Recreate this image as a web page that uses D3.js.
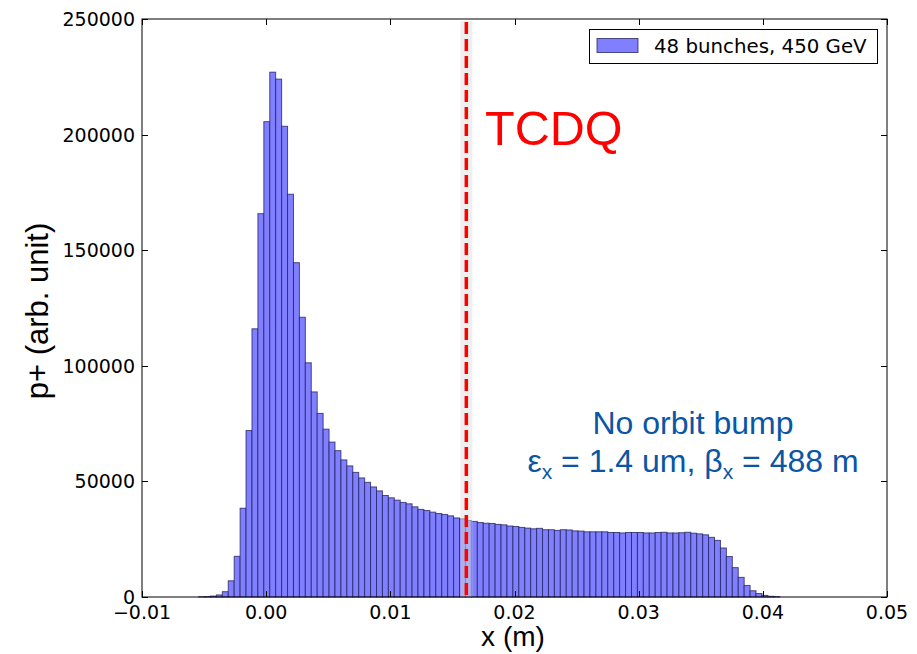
<!DOCTYPE html>
<html><head><meta charset="utf-8">
<script src="https://cdn.jsdelivr.net/npm/d3@7"></script>
<style>body{margin:0;background:#fff}svg{display:block}</style>
</head><body>
<svg id="c" width="917" height="654"></svg>
<script>
// histogram bins: first bin left edge and bin width (m)
const binStart = -0.005442;
const binWidth = 0.0004776;
// counts per bin (p+ arb. unit)
const counts = [100,200,400,900,2300,7000,17600,38400,72000,
 116000,165800,205600,227000,224000,203600,174200,144600,121000,101300,
 88700,79400,72600,67000,63300,59300,56700,53900,51500,49600,
 47600,45900,43900,42900,41900,40900,40300,39000,37900,37400,
 36700,36100,35700,35100,34200,33800,33100,32700,32200,31900,
 31800,31400,31200,30700,30500,30100,29800,29500,29700,29100,
 29100,28800,29100,29000,28600,28500,28200,28200,28200,28200,
 27900,27900,27700,27900,27900,27900,27700,27700,27900,28000,
 27700,27700,27800,28000,27600,27300,26900,25800,24500,21200,
 17500,12700,8500,5000,2700,1500,700,300,150];
const xTicks = [-0.01,0,0.01,0.02,0.03,0.04,0.05];
const xTickLabels = ["\u22120.01","0.00","0.01","0.02","0.03","0.04","0.05"];
const yTicks = [0,50000,100000,150000,200000,250000];
const yTickLabels = ["0","50000","100000","150000","200000","250000"];
const tcdqX = 0.01612;
const legendLabel = "48 bunches, 450 GeV";

const svg = d3.select("#c");
const L=142,R=887,T=19,B=597;
const x = d3.scaleLinear().domain([-0.01,0.05]).range([L,R]);
const y = d3.scaleLinear().domain([0,250000]).range([B,T]);

const bins = counts.map((c,i)=>({x0:binStart+i*binWidth,x1:binStart+(i+1)*binWidth,c}));
svg.append("g").selectAll("rect").data(bins).join("rect")
  .attr("x",d=>x(d.x0)).attr("width",d=>x(d.x1)-x(d.x0))
  .attr("y",d=>y(d.c)).attr("height",d=>B-y(d.c))
  .attr("fill","#7f7fff").attr("stroke","#1f1f5a").attr("stroke-opacity",0.75).attr("stroke-width",1);

// TCDQ band and line
svg.append("rect").attr("x",x(tcdqX)-6).attr("width",12).attr("y",T+2).attr("height",B-T-2)
  .attr("fill","#e0e0e0").attr("opacity",0.5);
svg.append("line").attr("x1",x(tcdqX)).attr("x2",x(tcdqX)).attr("y1",T+3).attr("y2",B)
  .attr("stroke","#ff0000").attr("stroke-width",3.5).attr("stroke-dasharray","12,5");

// frame
svg.append("rect").attr("x",L).attr("y",T).attr("width",R-L).attr("height",B-T)
  .attr("fill","none").attr("stroke","#000").attr("stroke-width",1);

const tl=6;
const gt = svg.append("g").attr("stroke","#000").attr("stroke-width",1);
xTicks.forEach(v=>{const px=Math.round(x(v))+0.5;
  gt.append("line").attr("x1",px).attr("x2",px).attr("y1",B).attr("y2",B-tl);
  gt.append("line").attr("x1",px).attr("x2",px).attr("y1",T).attr("y2",T+tl);});
yTicks.forEach(v=>{const py=Math.round(y(v))+0.5;
  gt.append("line").attr("x1",L).attr("x2",L+tl).attr("y1",py).attr("y2",py);
  gt.append("line").attr("x1",R).attr("x2",R-tl).attr("y1",py).attr("y2",py);});

const tf = "DejaVu Sans";
svg.append("g").selectAll("text").data(xTicks).join("text")
  .attr("x",d=>x(d)).attr("y",B+22).attr("text-anchor","middle")
  .attr("font-family",tf).attr("font-size",19).attr("fill","#000")
  .text((d,i)=>xTickLabels[i]);
svg.append("g").selectAll("text").data(yTicks).join("text")
  .attr("x",L-7).attr("y",d=>y(d)+7).attr("text-anchor","end")
  .attr("font-family",tf).attr("font-size",19).attr("fill","#000")
  .text((d,i)=>yTickLabels[i]);

// axis labels
svg.append("text").attr("x",513).attr("y",646).attr("text-anchor","middle")
  .attr("font-family","Liberation Sans, Arial").attr("font-size",28).text("x (m)");
svg.append("text").attr("transform","translate(48,311) rotate(-90)").attr("text-anchor","middle")
  .attr("font-family","Liberation Sans, Arial").attr("font-size",31).text("p+ (arb. unit)");

// legend
svg.append("rect").attr("x",589.5).attr("y",29.5).attr("width",288).attr("height",34)
  .attr("fill","#fff").attr("stroke","#000").attr("stroke-width",1);
svg.append("rect").attr("x",597).attr("y",38.5).attr("width",41).attr("height",14)
  .attr("fill","#7f7fff").attr("stroke","#1f1f5a").attr("stroke-opacity",0.75);
svg.append("text").attr("x",654).attr("y",53).attr("font-family",tf).attr("font-size",19.8).text(legendLabel);

// annotations
svg.append("text").attr("x",485).attr("y",145).attr("font-family","Liberation Sans, Arial")
  .attr("font-size",48.5).attr("fill","#ff0000").text("TCDQ");
const blue="#0a56a4";
svg.append("text").attr("x",693).attr("y",434).attr("text-anchor","middle")
  .attr("font-family","Liberation Sans, Arial").attr("font-size",32).attr("fill",blue).text("No orbit bump");
const t2 = svg.append("text").attr("x",693).attr("y",472).attr("text-anchor","middle")
  .attr("font-family","Liberation Sans, Arial").attr("font-size",32).attr("fill",blue);
t2.append("tspan").text("\u03b5");
t2.append("tspan").attr("font-size",21).attr("dy",7).text("x");
t2.append("tspan").attr("dy",-7).text(" = 1.4 um, \u03b2");
t2.append("tspan").attr("font-size",21).attr("dy",7).text("x");
t2.append("tspan").attr("dy",-7).text(" = 488 m");
</script>
</body></html>
